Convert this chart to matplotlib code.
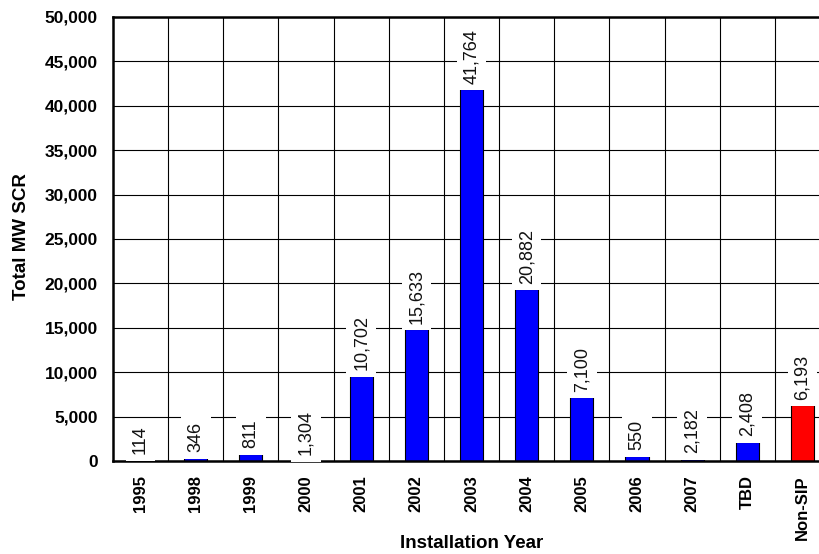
import matplotlib
matplotlib.use("Agg")
import matplotlib.pyplot as plt
from matplotlib.ticker import FuncFormatter, MultipleLocator
import numpy as np

categories = ['1995', '1998', '1999', '2000', '2001', '2002', '2003',
              '2004', '2005', '2006', '2007', 'TBD', 'Non-SIP']
bar_values = [114, 346, 811, 0, 9570, 14850, 41850, 19350, 7200, 560, 250, 2150, 6300]
label_values = [114, 346, 811, 1304, 10702, 15633, 41764, 20882, 7100, 550, 2182, 2408, 6193]
bar_colors = ['#0000FF'] * 12 + ['#FF0000']

plt.rcParams['font.family'] = ['Liberation Sans', 'DejaVu Sans']

fig = plt.figure(figsize=(8.2, 5.54), dpi=100)
ax = fig.add_axes([113 / 820, 1 - 461 / 554, 717 / 820, 444 / 554])

x = np.arange(len(categories))
ax.bar(x, bar_values, width=0.42, color=bar_colors, edgecolor='black',
       linewidth=0.8, zorder=2)

for xi, bv, lv in zip(x, bar_values, label_values):
    ax.annotate(f"{lv:,}", xy=(xi, bv), xytext=(0, 4), textcoords='offset points',
                rotation=90, ha='center', va='bottom', fontsize=13,
                color='#111111', zorder=6, annotation_clip=False,
                bbox=dict(boxstyle='square,pad=0.35', facecolor='white',
                          edgecolor='none'))

ax.set_xlim(-0.5, len(categories) - 0.5)
ax.set_ylim(0, 50000)
ax.yaxis.set_major_locator(MultipleLocator(5000))
ax.yaxis.set_major_formatter(FuncFormatter(lambda v, p: f"{int(v):,}"))

ax.set_xticks(x)
ax.set_xticklabels(categories, rotation=90, fontsize=12, fontweight='bold')
ax.set_xticks(x[:-1] + 0.5, minor=True)
ax.tick_params(axis='x', which='both', length=0, pad=10)
ax.tick_params(axis='y', length=0, pad=11, labelsize=12.5)
for lab in ax.get_yticklabels():
    lab.set_fontweight('bold')

ax.grid(True, axis='y', which='major', color='black', linewidth=0.8, zorder=1)
ax.grid(True, axis='x', which='minor', color='black', linewidth=0.8, zorder=1)
ax.grid(False, axis='x', which='major')
ax.set_axisbelow(True)

for s in ['left', 'bottom', 'top']:
    ax.spines[s].set_linewidth(1.8)
    ax.spines[s].set_zorder(3)
ax.spines['right'].set_visible(False)

fig.text(22 / 820, 1 - 237 / 554, 'Total MW SCR', rotation=90, ha='center',
         va='center', fontsize=13.5, fontweight='bold')
fig.text(472 / 820, 1 - 544 / 554, 'Installation Year', ha='center',
         va='center', fontsize=13.5, fontweight='bold')

fig.savefig('out.png', dpi=100, facecolor='white')
